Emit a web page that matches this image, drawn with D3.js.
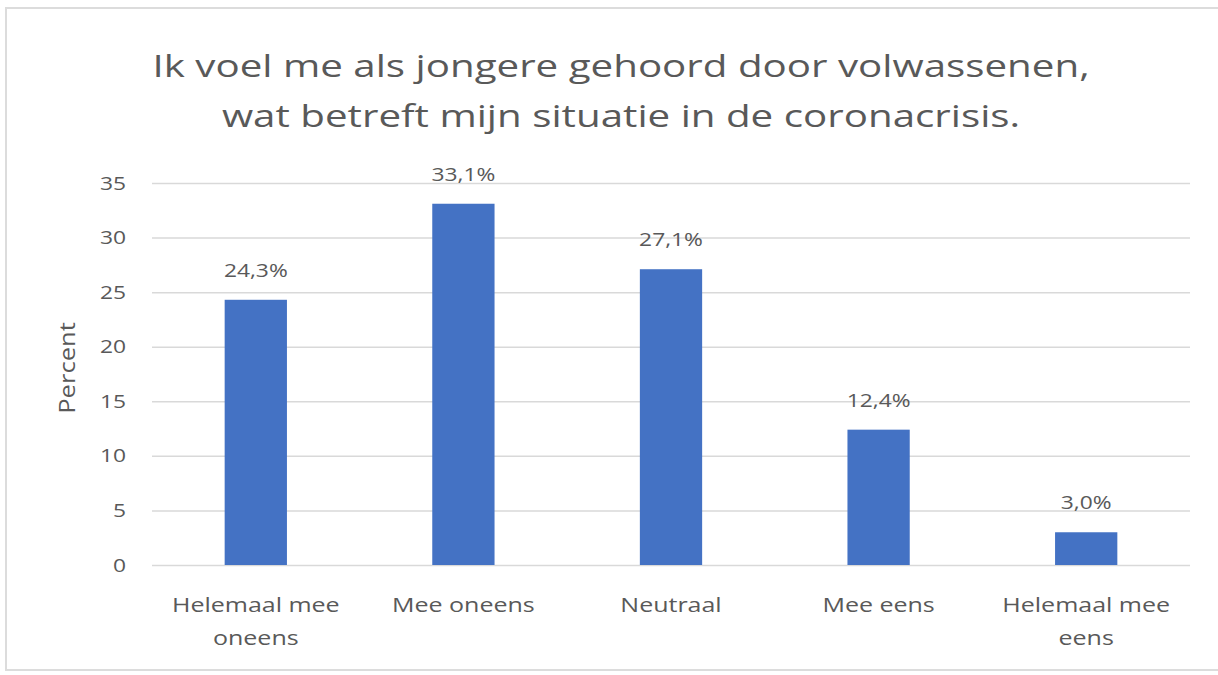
<!DOCTYPE html>
<html>
<head>
<meta charset="utf-8">
<script src="https://cdn.jsdelivr.net/npm/d3@7"></script>
<style>
  html, body { margin: 0; padding: 0; background: #fff; }
  svg { display: block; }
  text { font-family: "Open Sans", "Noto Sans", sans-serif; }
</style>
</head>
<body>
<svg id="chart" width="1218" height="675"></svg>
<script>
// ---- data ----
const categories = ["Helemaal mee oneens", "Mee oneens", "Neutraal", "Mee eens", "Helemaal mee eens"];
const values = [24.3, 33.1, 27.1, 12.4, 3.0];
const valueLabels = ["24,3%", "33,1%", "27,1%", "12,4%", "3,0%"];
const yTicks = [0, 5, 10, 15, 20, 25, 30, 35];
const titleLines = ["Ik voel me als jongere gehoord door volwassenen,", "wat betreft mijn situatie in de coronacrisis."];
const yAxisTitle = "Percent";

// ---- layout ----
const W = 1218, H = 675;
const plot = { left: 152, right: 1190, top: 183, bottom: 565 };
const textColor = "#595959";
const gridColor = "#d9d9d9";
const barColor = "#4472C4";
const stretch = 1.2; // horizontal stretch seen in the reference

const svg = d3.select("#chart");

// frame
svg.append("rect")
  .attr("x", 6).attr("y", 8).attr("width", W + 10).attr("height", 662)
  .attr("fill", "#fff").attr("stroke", "#dcdcdc").attr("stroke-width", 2);

const x = d3.scaleBand()
  .domain(categories)
  .range([plot.left, plot.right])
  .paddingInner(0.7)
  .paddingOuter(0.35);

const y = d3.scaleLinear()
  .domain([0, 35])
  .range([plot.bottom, plot.top]);

// title
svg.append("g").selectAll("text")
  .data(titleLines)
  .join("text")
  .attr("text-anchor", "middle")
  .attr("font-size", 31)
  .attr("fill", textColor)
  .attr("transform", (d, i) => `translate(621,${77 + i * 50}) scale(1.3,1)`)
  .text(d => d);

// gridlines + y axis
const yAxis = d3.axisLeft(y)
  .tickValues(yTicks)
  .tickSize(-(plot.right - plot.left))
  .tickPadding(26)
  .tickFormat(d3.format("d"));

const gy = svg.append("g")
  .attr("transform", `translate(${plot.left},0)`)
  .call(yAxis);
gy.select(".domain").remove();
gy.selectAll(".tick line").attr("stroke", gridColor).attr("stroke-width", 1.5);
gy.selectAll(".tick text")
  .attr("fill", textColor)
  .attr("font-size", 19)
  .attr("font-family", "'Open Sans', sans-serif")
  .each(function () {
    const t = d3.select(this);
    const xx = +t.attr("x");
    t.attr("transform", `translate(${xx},0) scale(${stretch},1) translate(${-xx},0)`);
  });

// y axis title
svg.append("text")
  .attr("transform", `translate(75,${(plot.top + plot.bottom) / 2 - 6}) rotate(-90) scale(1.22,1)`)
  .attr("text-anchor", "middle")
  .attr("font-size", 21)
  .attr("fill", textColor)
  .text(yAxisTitle);

// bars
svg.append("g").selectAll("rect")
  .data(values)
  .join("rect")
  .attr("x", (d, i) => x(categories[i]))
  .attr("y", d => y(d))
  .attr("width", x.bandwidth())
  .attr("height", d => y(0) - y(d))
  .attr("fill", barColor);

// data labels
svg.append("g").selectAll("text")
  .data(values)
  .join("text")
  .attr("text-anchor", "middle")
  .attr("font-size", 19)
  .attr("fill", textColor)
  .attr("transform", (d, i) => `translate(${x(categories[i]) + x.bandwidth() / 2},${y(d) - 23}) scale(${stretch},1)`)
  .text((d, i) => valueLabels[i]);

// category labels (wrapped)
function wrapLines(label) {
  const words = label.split(" ");
  if (words.length <= 2) return [label];
  return [words.slice(0, 2).join(" "), words.slice(2).join(" ")];
}
const gx = svg.append("g");
categories.forEach((c, i) => {
  const cx = x(c) + x.bandwidth() / 2;
  const t = gx.append("text")
    .attr("text-anchor", "middle")
    .attr("font-size", 20)
    .attr("fill", textColor)
    .attr("transform", `translate(${cx},612) scale(1.25,1)`);
  wrapLines(c).forEach((line, j) => {
    t.append("tspan").attr("x", 0).attr("y", j * 33).text(line);
  });
});
</script>
</body>
</html>
